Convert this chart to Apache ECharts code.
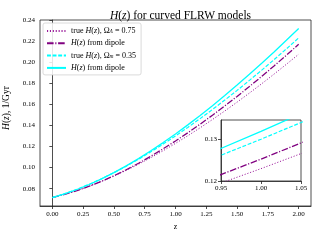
<!DOCTYPE html>
<html><head><meta charset="utf-8">
<script src="https://cdn.jsdelivr.net/npm/echarts@6/dist/echarts.min.js"></script>
<style>html,body{margin:0;padding:0;background:#fff}#c{width:320px;height:240px}</style>
</head><body><div id="c"></div>
<script>
const zValues = [0.0,0.1,0.2,0.3,0.4,0.5,0.6,0.7,0.8,0.9,1.0,1.1,1.2,1.3,1.4,1.5,1.6,1.7,1.8,1.9,2.0];
const trueL = [0.0716,0.07471,0.07832,0.08241,0.08696,0.09197,0.09741,0.10325,0.10947,0.11605,0.12298,0.13022,0.13777,0.14561,0.15372,0.16209,0.17071,0.17958,0.18867,0.19799,0.20752];
const dipoleL = [0.0716,0.07462,0.07821,0.08236,0.08705,0.09227,0.09799,0.10417,0.11080,0.11784,0.12527,0.13307,0.14122,0.14968,0.15847,0.16754,0.17690,0.18652,0.19641,0.20654,0.21691];
const trueM = [0.0716,0.07528,0.07950,0.08425,0.08950,0.09522,0.10140,0.10800,0.11499,0.12235,0.13007,0.13811,0.14647,0.15513,0.16406,0.17327,0.18274,0.19245,0.20240,0.21259,0.22300];
const dipoleM = [0.0716,0.07511,0.07924,0.08399,0.08933,0.09523,0.10165,0.10856,0.11594,0.12374,0.13195,0.14054,0.14949,0.15877,0.16838,0.17829,0.18849,0.19897,0.20973,0.22074,0.23200];
const xTicks = [0,0.25,0.5,0.75,1.0,1.25,1.5,1.75,2.0];
const yTicks = [0.08,0.10,0.12,0.14,0.16,0.18,0.20,0.22,0.24];
const insetXTicks = [0.95,1.00,1.05];
const insetYTicks = [0.12,0.13];

const FONT = 'Liberation Serif';
const pairs = a => zValues.map((z,i)=>[z,a[i]]);
const PURPLE = '#800080', LPURPLE = '#9a1a9a', CYAN = '#00ffff';
const styles = {
  trueL: {color: LPURPLE, width: 1.0, type: [1.1,1.8]},
  dipoleL: {color: PURPLE, width: 1.3, type: [6.6,1.7,1.1,1.7]},
  trueM: {color: CYAN, width: 1.2, type: [3.9,1.7]},
  dipoleM: {color: CYAN, width: 1.3, type: 'solid'}
};
const dataMap = {trueL, dipoleL, trueM, dipoleM};
const names = ['trueL','dipoleL','trueM','dipoleM'];
const legendText = {
  trueL: 'true {i|H}({i|z}), Ω{s|Λ} = 0.75',
  dipoleL: '{i|H}({i|z}) from dipole',
  trueM: 'true {i|H}({i|z}), Ω{s|m} = 0.35',
  dipoleM: '{i|H}({i|z}) from dipole'
};
const series = [];
names.forEach(n => {
  series.push({name:n, type:'line', xAxisIndex:0, yAxisIndex:0, data:pairs(dataMap[n]), symbol:'none', lineStyle:styles[n], itemStyle:{color:styles[n].color}, z:2, animation:false});
});
names.forEach(n => {
  series.push({name:n, type:'line', xAxisIndex:1, yAxisIndex:1, data:pairs(dataMap[n]), symbol:'none', lineStyle:styles[n], itemStyle:{color:styles[n].color}, z:12, animation:false});
});
const tickLbl = {fontFamily: FONT, fontSize: 7, color:'#000'};
const axisLineS = {show:true, lineStyle:{color:'#222', width:0.8}};
const tickS = {show:true, inside:false, length:3, lineStyle:{color:'#222', width:0.8}};
const chart = echarts.init(document.getElementById('c'), null, {renderer:'canvas'});
chart.setOption({
  animation:false,
  backgroundColor:'#fff',
  title:{text:'{i|H}({i|z}) for curved FLRW models', left:175.5, textAlign:'center', top:5,
    textStyle:{fontFamily:FONT, fontSize:11.5, fontWeight:'normal', color:'#000',
      rich:{i:{fontFamily:FONT, fontSize:11.5, fontStyle:'italic', color:'#000'}}}},
  legend:{data:names, orient:'vertical', left:43, top:23, padding:[4,5,3,3], itemGap:4.3, itemWidth:19, itemHeight:8,
    borderColor:'#d0d0d0', borderWidth:0.8, borderRadius:2, backgroundColor:'rgba(255,255,255,0.85)', z:20,
    itemStyle:{opacity:0},
    formatter: n => legendText[n],
    textStyle:{fontFamily:FONT, fontSize:8, color:'#000', lineHeight:8,
      rich:{i:{fontFamily:FONT, fontSize:8, fontStyle:'italic', color:'#000'},
            s:{fontFamily:FONT, fontSize:5.5, fontStyle:'italic', color:'#000', verticalAlign:'bottom', padding:[3,0,0,0]}}}},
  grid:[
    {left:40, right:9, top:20, bottom:34, show:true, borderColor:'#222', borderWidth:0.8, backgroundColor:'#fff', containLabel:false, outerBoundsMode:'none'},
    {left:221, right:19, top:120, bottom:59, show:true, borderColor:'#222', borderWidth:0.8, backgroundColor:'#fff', z:10, containLabel:false, outerBoundsMode:'none'}
  ],
  xAxis:[
    {type:'value', gridIndex:0, min:-0.1, max:2.1, splitLine:{show:false}, axisLine:axisLineS,
     axisTick:Object.assign({customValues:xTicks}, tickS),
     axisLabel:Object.assign({customValues:xTicks, margin:5, formatter:v=>v.toFixed(2)}, tickLbl),
     name:'z', nameLocation:'middle', nameGap:16, nameTextStyle:{fontFamily:FONT, fontSize:8, color:'#000'}},
    {type:'value', gridIndex:1, min:0.95, max:1.05, splitLine:{show:false}, axisLine:axisLineS, z:11,
     axisTick:Object.assign({customValues:insetXTicks}, tickS),
     axisLabel:Object.assign({customValues:insetXTicks, margin:4, formatter:v=>v.toFixed(2)}, tickLbl)}
  ],
  yAxis:[
    {type:'value', gridIndex:0, min:0.0636, max:0.24, splitLine:{show:false}, axisLine:axisLineS,
     axisTick:Object.assign({customValues:yTicks}, tickS),
     axisLabel:Object.assign({customValues:yTicks, margin:5, formatter:v=>v.toFixed(2)}, tickLbl),
     name:'{i|H}({i|z}), 1/Gyr', nameLocation:'middle', nameRotate:90, nameGap:28,
     nameTextStyle:{fontFamily:FONT, fontSize:9.5, color:'#000', padding:[0,0,0,10], rich:{i:{fontFamily:FONT, fontSize:9.5, fontStyle:'italic', color:'#000'}}}},
    {type:'value', gridIndex:1, min:0.12, max:0.1347, splitLine:{show:false}, axisLine:axisLineS, z:11,
     axisTick:Object.assign({customValues:insetYTicks}, tickS),
     axisLabel:Object.assign({customValues:insetYTicks, margin:4, formatter:v=>v.toFixed(2)}, tickLbl)}
  ],
  series: series
});
</script></body></html>
